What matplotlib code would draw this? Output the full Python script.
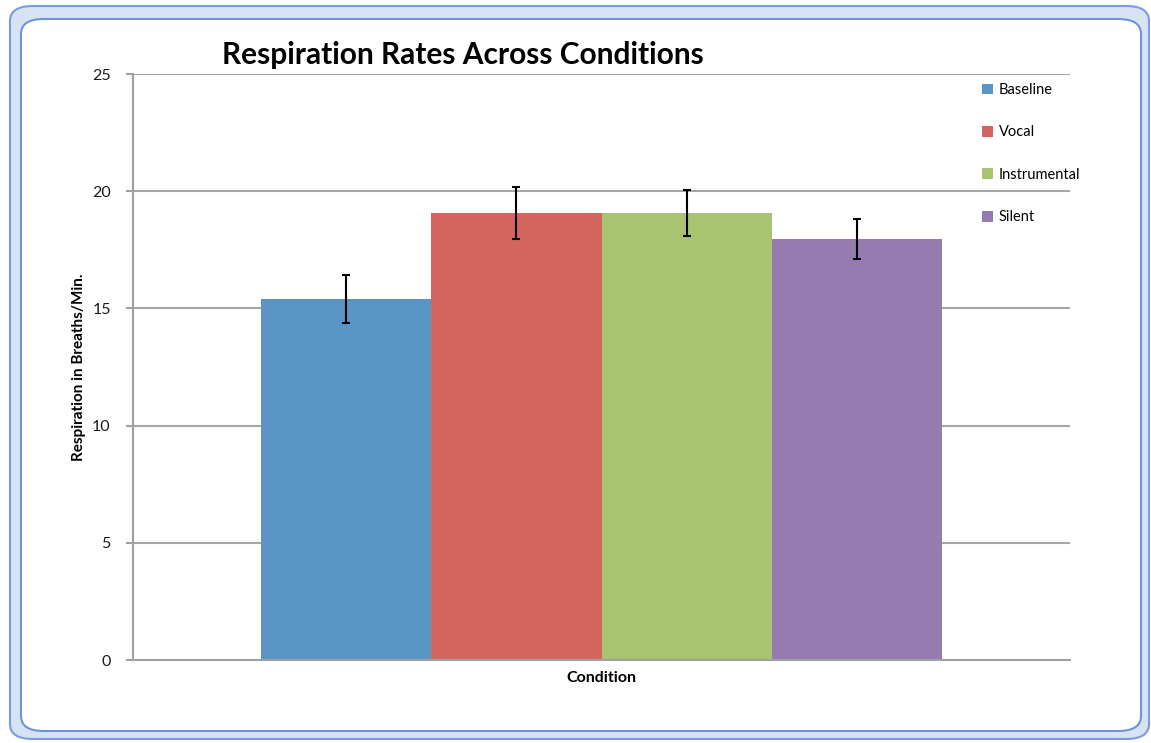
import matplotlib
matplotlib.use("Agg")
import matplotlib.pyplot as plt
from matplotlib.patches import FancyBboxPatch

categories = ["Baseline", "Vocal", "Instrumental", "Silent"]
means = [15.4, 19.07, 19.07, 17.96]
errors = [1.02, 1.13, 1.0, 0.87]
colors = ["#5a95c6", "#d4665f", "#a8c470", "#957bb0"]
yticks = [0, 5, 10, 15, 20, 25]

plt.rcParams['font.family'] = ['Lato', 'DejaVu Sans']

fig = plt.figure(figsize=(11.51, 7.43), dpi=100)
W, H = 1151, 743

# Excel-like chart frame
outer = FancyBboxPatch((10 / W, 4 / H), 1139 / W, 733 / H,
                       boxstyle="round,pad=0,rounding_size=0.02",
                       transform=fig.transFigure, facecolor="#d6e3f5",
                       edgecolor="#7a9ce0", linewidth=1.5, zorder=-2)
inner = FancyBboxPatch((21 / W, 12 / H), 1120 / W, 712 / H,
                       boxstyle="round,pad=0,rounding_size=0.02",
                       transform=fig.transFigure, facecolor="white",
                       edgecolor="#6f93d8", linewidth=1.5, zorder=-1)
fig.patches.extend([outer, inner])

ax = fig.add_axes([133 / W, 83 / H, 937 / W, 586 / H])
ax.set_facecolor("none")
ax.set_zorder(1)

n = len(categories)
width = 0.727 / n
for i, (c, m, e, col) in enumerate(zip(categories, means, errors, colors)):
    x = (i - (n - 1) / 2) * width
    ax.bar(x, m, width=width, color=col, label=c, zorder=2)
    ax.errorbar(x, m, yerr=e, fmt="none", ecolor="black", elinewidth=1.5,
                capsize=3, capthick=1.5, zorder=3)

ax.set_xlim(-0.5, 0.5)
ax.set_ylim(0, 25)
ax.set_yticks(yticks)
ax.set_xticks([])
ax.yaxis.grid(True, color="#a6a6a6", linewidth=1.5, zorder=1)
ax.set_axisbelow(True)
for s in ["top", "right"]:
    ax.spines[s].set_visible(False)
for s in ["left", "bottom"]:
    ax.spines[s].set_color("#a0a0a0")
    ax.spines[s].set_linewidth(1.5)
ax.tick_params(axis="y", length=5, color="#a0a0a0", width=1.5, labelsize=11.5,
               pad=11, labelcolor="#1a1a1a")

ax.set_xlabel("Condition", fontsize=11.5, fontweight="bold", labelpad=8)
ax.set_ylabel("Respiration in Breaths/Min.", fontsize=11, fontweight="bold", labelpad=4)

fig.text(463 / W, 1 - 55 / H, "Respiration Rates Across Conditions",
         fontsize=21.5, fontweight="bold", ha="center", va="center")

leg = fig.legend(loc="upper left", bbox_to_anchor=(982 / W, 1 - 83 / H),
                 frameon=False, fontsize=10.5, handlelength=0.75, handleheight=0.75,
                 handletextpad=0.4, labelspacing=1.95, borderpad=0, borderaxespad=0)

fig.savefig("out.png", dpi=100)
